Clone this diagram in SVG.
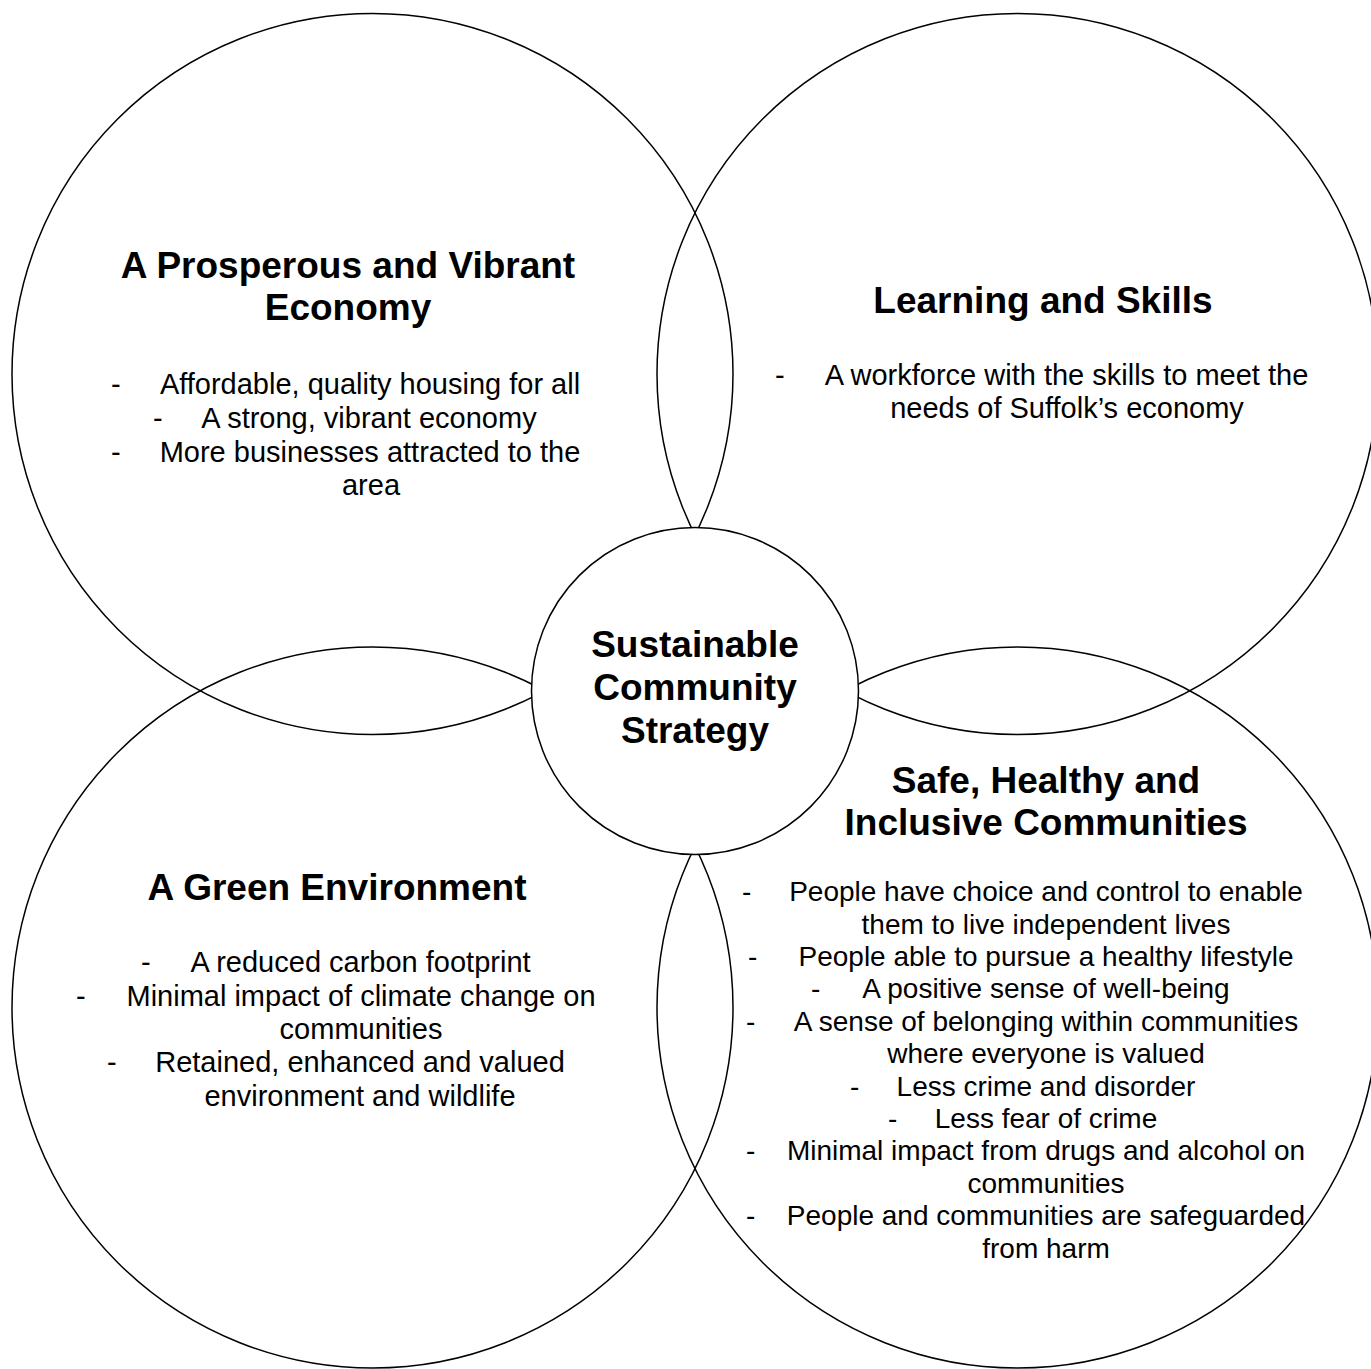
<svg xmlns="http://www.w3.org/2000/svg" width="1371" height="1369" viewBox="0 0 1371 1369">
<style>
.ring{fill:none;stroke:#000;stroke-width:1.5}
.hub{fill:#fff;stroke:#000;stroke-width:1.5}
text{font-family:"Liberation Sans",Arial,Helvetica,sans-serif;fill:#000}
.t{font-size:37px;font-weight:bold;text-anchor:middle}
.b{font-size:29px}
.s{font-size:28px}
.m{text-anchor:middle}
</style>
<rect width="1371" height="1369" fill="#fff"/>
<g id="connectors"></g>
<g id="node-economy">
<circle class="ring" cx="372.5" cy="374" r="360.5"/>
<text class="t" x="348" y="278">A Prosperous and Vibrant</text>
<text class="t" x="348" y="320">Economy</text>
<g class="b">
<text x="111" y="394">-</text><text class="m" x="370" y="394">Affordable, quality housing for all</text>
<text x="153" y="428">-</text><text class="m" x="369" y="428">A strong, vibrant economy</text>
<text x="111" y="462">-</text><text class="m" x="370" y="462">More businesses attracted to the</text>
<text class="m" x="371" y="495">area</text>
</g>
</g>
<g id="node-learning">
<circle class="ring" cx="1017.5" cy="374" r="360.5"/>
<text class="t" x="1043" y="313">Learning and Skills</text>
<g class="b">
<text x="775" y="385">-</text><text class="m" x="1066.5" y="385">A workforce with the skills to meet the</text>
<text class="m" x="1067" y="418">needs of Suffolk’s economy</text>
</g>
</g>
<g id="node-green">
<circle class="ring" cx="372.5" cy="1007.5" r="360.5"/>
<text class="t" x="337" y="900">A Green Environment</text>
<g class="b">
<text x="141" y="972">-</text><text class="m" x="360.5" y="972">A reduced carbon footprint</text>
<text x="76" y="1005.5">-</text><text class="m" x="361" y="1005.5">Minimal impact of climate change on</text>
<text class="m" x="361" y="1039">communities</text>
<text x="107" y="1072">-</text><text class="m" x="360" y="1072">Retained, enhanced and valued</text>
<text class="m" x="360" y="1105.5">environment and wildlife</text>
</g>
</g>
<g id="node-safe">
<circle class="ring" cx="1017.5" cy="1007.5" r="360.5"/>
<text class="t" x="1046" y="793">Safe, Healthy and</text>
<text class="t" x="1046" y="835">Inclusive Communities</text>
<g class="s">
<text x="742" y="901">-</text><text class="m" x="1046" y="901">People have choice and control to enable</text>
<text class="m" x="1046" y="933.5">them to live independent lives</text>
<text x="748" y="966">-</text><text class="m" x="1046" y="966">People able to pursue a healthy lifestyle</text>
<text x="811" y="998">-</text><text class="m" x="1046" y="998">A positive sense of well-being</text>
<text x="746" y="1030.5">-</text><text class="m" x="1046" y="1030.5">A sense of belonging within communities</text>
<text class="m" x="1046" y="1063">where everyone is valued</text>
<text x="850" y="1095.5">-</text><text class="m" x="1046" y="1095.5">Less crime and disorder</text>
<text x="888" y="1128">-</text><text class="m" x="1046" y="1128">Less fear of crime</text>
<text x="746" y="1160">-</text><text class="m" x="1046" y="1160">Minimal impact from drugs and alcohol on</text>
<text class="m" x="1046" y="1192.5">communities</text>
<text x="746" y="1225">-</text><text class="m" x="1046" y="1225">People and communities are safeguarded</text>
<text class="m" x="1046" y="1257.5">from harm</text>
</g>
</g>
<g id="node-strategy">
<circle class="hub" cx="695" cy="691" r="163.5"/>
<text class="t" x="695" y="657">Sustainable</text>
<text class="t" x="695" y="700">Community</text>
<text class="t" x="695" y="742.5">Strategy</text>
</g>
</svg>
